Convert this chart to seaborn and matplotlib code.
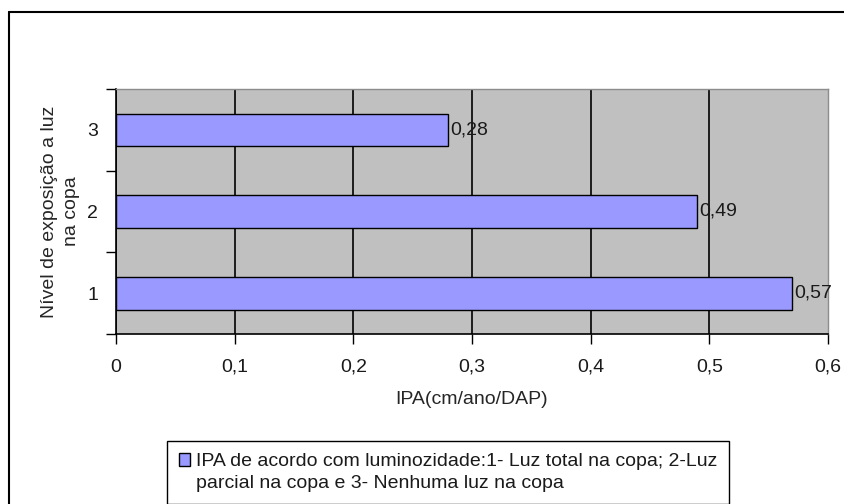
import numpy as np
import matplotlib
matplotlib.use("Agg")
import matplotlib.pyplot as plt
from matplotlib.patches import Patch
from matplotlib.lines import Line2D
import seaborn as sns

# data
niveis = ["3", "2", "1"]
ipa = [0.28, 0.49, 0.57]
x_ticks = [0, 0.1, 0.2, 0.3, 0.4, 0.5, 0.6]
x_tick_labels = ["0", "0,1", "0,2", "0,3", "0,4", "0,5", "0,6"]
legend_label = ("IPA de acordo com luminozidade:1- Luz total na copa; 2-Luz\n"
                "parcial na copa e 3- Nenhuma luz na copa")

sns.set_style("ticks")
plt.rcParams['font.family'] = ['Liberation Sans', 'DejaVu Sans']
plt.rcParams['text.color'] = '#1a1a1a'
FS = 14

W, H = 844, 504
fig = plt.figure(figsize=(W / 100, H / 100), dpi=100, facecolor="white")
ax = fig.add_axes([116 / W, 1 - 334 / H, (828 - 116) / W, (334 - 89) / H])
ax.set_facecolor("#C0C0C0")

sns.barplot(x=ipa, y=niveis, order=niveis, orient="h", color="#9999FF",
            saturation=1, edgecolor="black", linewidth=1, width=0.4, ax=ax)
ax.bar_label(ax.containers[0], fmt=lambda v: f"{v:.2f}".replace(".", ","),
             padding=1.5, fontsize=FS)

ax.set_xlim(0, 0.6)
ax.set_ylim(2.5, -0.5)
ax.set_xticks(x_ticks)
ax.set_xticklabels(x_tick_labels)
ax.tick_params(axis="x", length=7, width=1, color="black", pad=11,
               labelsize=FS, labelcolor="#1a1a1a", direction="out")
ax.tick_params(axis="y", which="major", length=0, pad=13, labelsize=FS,
               labelcolor="#1a1a1a")
ax.set_yticks([-0.5, 0.5, 1.5, 2.5], minor=True)
ax.tick_params(axis="y", which="minor", length=7, width=1, color="black",
               direction="out")

ax.grid(axis="x", color="black", linewidth=1.2)
ax.grid(axis="y", visible=False)
ax.xaxis.get_gridlines()[-1].set_visible(False)
ax.set_axisbelow(True)

for side in ["left", "bottom"]:
    ax.spines[side].set_color("black")
    ax.spines[side].set_linewidth(1.2)
for side in ["top", "right"]:
    ax.spines[side].set_visible(True)
    ax.spines[side].set_color("#8C8C8C")
    ax.spines[side].set_linewidth(1)

ax.set_xlabel("IPA(cm/ano/DAP)", fontsize=FS, labelpad=11)
ax.set_ylabel("Nível de exposição a luz\nna copa", fontsize=FS, labelpad=5,
              linespacing=1.4)

# outer chart-area frame (top and left edges visible)
fig.add_artist(Line2D([9 / W, 1], [1 - 12 / H] * 2, transform=fig.transFigure,
                      color="black", linewidth=1.5))
fig.add_artist(Line2D([9 / W] * 2, [0, 1 - 12 / H], transform=fig.transFigure,
                      color="black", linewidth=1.5))

leg = fig.legend(handles=[Patch(facecolor="#9999FF", edgecolor="black",
                                label=legend_label)],
                 loc="upper left", bbox_to_anchor=(167 / W, 1 - 441 / H),
                 frameon=True, fancybox=False, edgecolor="black", framealpha=1,
                 fontsize=FS, handlelength=0.6, handleheight=0.7,
                 handletextpad=0.3, borderpad=0.6, borderaxespad=0)
leg.get_frame().set_linewidth(1)
leg.get_texts()[0].set_linespacing(1.4)
# put the swatch next to the first line of the label, as in the source chart
for col in leg._legend_handle_box.get_children():
    for row in col.get_children():
        row.align = "top"

fig.savefig("out.png", dpi=100)
